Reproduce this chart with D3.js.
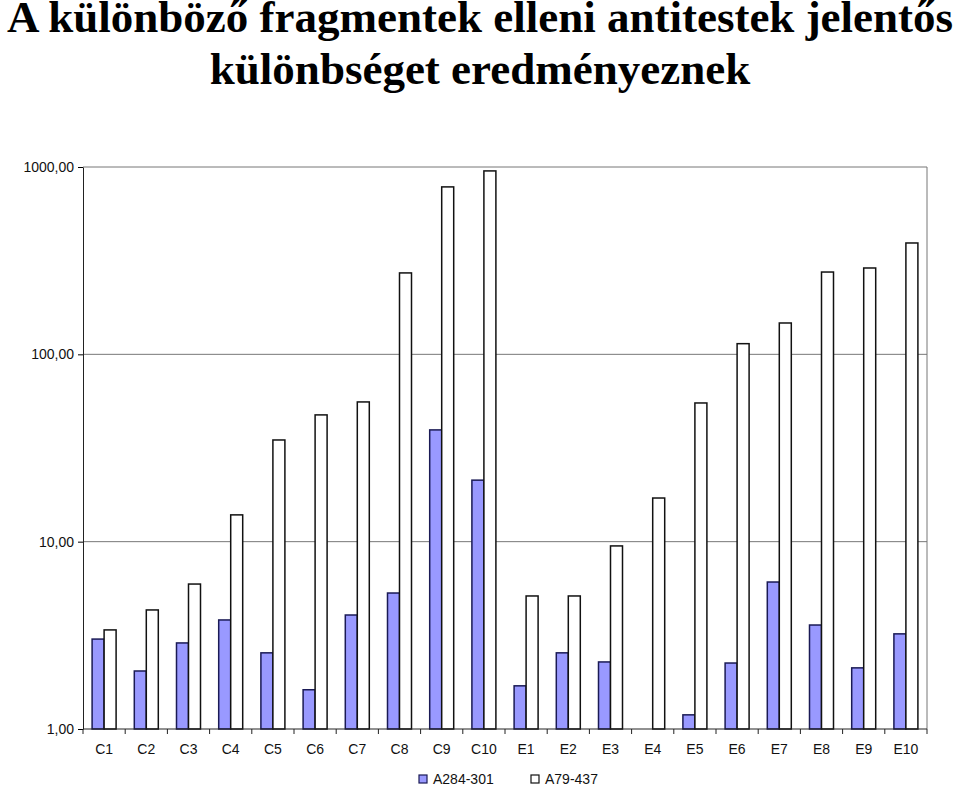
<!DOCTYPE html>
<html>
<head>
<meta charset="utf-8">
<script src="https://cdn.jsdelivr.net/npm/d3@7"></script>
<style>
  body { margin: 0; background: #fff; }
  svg { display: block; }
</style>
</head>
<body>
<svg id="chart" width="960" height="789"></svg>
<script>
// chart data
const categories = ["C1","C2","C3","C4","C5","C6","C7","C8","C9","C10",
                    "E1","E2","E3","E4","E5","E6","E7","E8","E9","E10"];
const seriesNames = ["A284-301", "A79-437"];
const a284 = [3.02, 2.04, 2.88, 3.82, 2.55, 1.62, 4.06, 5.32, 39.5, 21.3,
              1.70, 2.55, 2.28, null, 1.19, 2.25, 6.09, 3.59, 2.12, 3.22];
const a79 = [3.38, 4.32, 5.94, 13.9, 34.9, 47.5, 55.7, 272, 783, 953,
             5.13, 5.13, 9.49, 17.1, 55.0, 114, 147, 275, 289, 393];
const yTicks = [1, 10, 100, 1000];
const titleLines = ["A különböző fragmentek elleni antitestek jelentős",
                    "különbséget eredményeznek"];

const svg = d3.select("#chart");
const margin = {top: 167, right: 33, bottom: 60, left: 83};
const width = 960, height = 789;
const innerW = width - margin.left - margin.right;
const innerH = height - margin.top - margin.bottom;

// title
svg.append("g").selectAll("text")
  .data(titleLines)
  .join("text")
  .attr("x", 480)
  .attr("y", (d, i) => 32 + i * 52)
  .attr("text-anchor", "middle")
  .style("font-family", "'Liberation Serif', 'Times New Roman', serif")
  .style("font-weight", "bold")
  .style("font-size", "45px")
  .text(d => d);

const g = svg.append("g").attr("transform", `translate(${margin.left},${margin.top})`);

const x = d3.scaleBand().domain(categories).range([0, innerW]);
const y = d3.scaleLog().domain([1, 1000]).range([innerH, 0]);
const barW = 12;

// gridlines
g.append("g").selectAll("line")
  .data(yTicks.slice(1))
  .join("line")
  .attr("x1", 0).attr("x2", innerW)
  .attr("y1", d => y(d)).attr("y2", d => y(d))
  .attr("stroke", "#777").attr("stroke-width", 1);

// right border
g.append("line")
  .attr("x1", innerW).attr("x2", innerW)
  .attr("y1", 0).attr("y2", innerH)
  .attr("stroke", "#777");

// bars
const bars = g.append("g");
bars.selectAll("rect.a284")
  .data(categories.map((c, i) => ({c, v: a284[i]})).filter(d => d.v != null))
  .join("rect")
  .attr("class", "a284")
  .attr("x", d => x(d.c) + x.bandwidth() / 2 - barW)
  .attr("width", barW)
  .attr("y", d => y(d.v))
  .attr("height", d => innerH - y(d.v))
  .attr("fill", "#9999ff")
  .attr("stroke", "#1a1a55")
  .attr("stroke-width", 1.5);

bars.selectAll("rect.a79")
  .data(categories.map((c, i) => ({c, v: a79[i]})))
  .join("rect")
  .attr("class", "a79")
  .attr("x", d => x(d.c) + x.bandwidth() / 2)
  .attr("width", barW)
  .attr("y", d => y(d.v))
  .attr("height", d => innerH - y(d.v))
  .attr("fill", "#fff")
  .attr("stroke", "#111")
  .attr("stroke-width", 1.5);

// y axis
const yAxis = g.append("g")
  .call(d3.axisLeft(y).tickValues(yTicks).tickSize(5).tickSizeOuter(0)
    .tickFormat(d => d3.format(".2f")(d).replace(".", ",")));
yAxis.select(".domain").attr("stroke", "#222");
yAxis.selectAll("text")
  .attr("x", -9)
  .style("font-family", "'Liberation Sans', Arial, sans-serif")
  .style("font-size", "14px")
  .attr("fill", "#111");

// x axis with ticks between categories
const xAxis = g.append("g").attr("transform", `translate(0,${innerH})`);
xAxis.append("line").attr("x1", 0).attr("x2", innerW).attr("stroke", "#222");
xAxis.selectAll("line.tick")
  .data(d3.range(categories.length + 1))
  .join("line")
  .attr("class", "tick")
  .attr("x1", i => i * x.step()).attr("x2", i => i * x.step())
  .attr("y1", 0).attr("y2", 5)
  .attr("stroke", "#222");
xAxis.selectAll("text")
  .data(categories)
  .join("text")
  .attr("x", d => x(d) + x.bandwidth() / 2)
  .attr("y", 25)
  .attr("text-anchor", "middle")
  .style("font-family", "'Liberation Sans', Arial, sans-serif")
  .style("font-size", "14px")
  .attr("fill", "#111")
  .text(d => d);

// legend
const legend = svg.append("g").attr("transform", "translate(419,779)");
const legendItems = legend.selectAll("g")
  .data(seriesNames)
  .join("g")
  .attr("transform", (d, i) => `translate(${i * 112},0)`);
legendItems.append("rect")
  .attr("x", 0).attr("y", -4).attr("width", 8).attr("height", 8)
  .attr("fill", (d, i) => i === 0 ? "#9999ff" : "#fff")
  .attr("stroke", (d, i) => i === 0 ? "#1a1a55" : "#111")
  .attr("stroke-width", 1.2);
legendItems.append("text")
  .attr("x", 14).attr("y", 5)
  .style("font-family", "'Liberation Sans', Arial, sans-serif")
  .style("font-size", "14px")
  .attr("fill", "#111")
  .text(d => d);
</script>
</body>
</html>
